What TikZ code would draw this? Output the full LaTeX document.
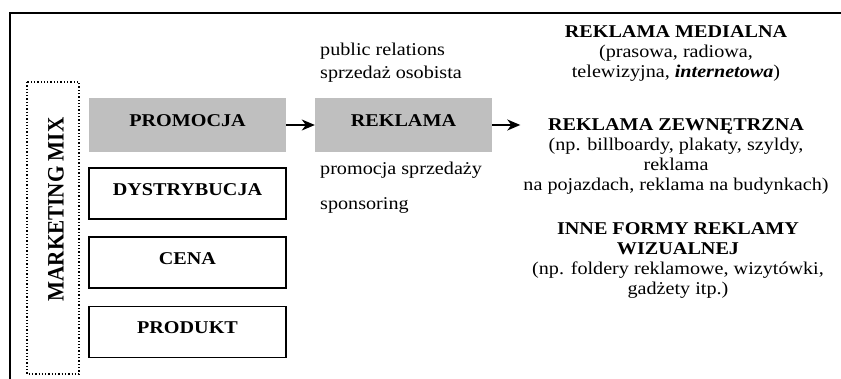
\documentclass[tikz,border=0pt]{standalone}
\usepackage{fontspec}
\setmainfont{Liberation Serif}[FakeStretch=1.12]
\newfontfamily\mixfont{Liberation Serif}[FakeStretch=0.9]
\usetikzlibrary{arrows.meta}
\begin{document}
\begin{tikzpicture}[x=1pt,y=-1pt,>={Stealth[length=13pt,width=11pt,inset=4pt]},
    txt/.style={font=\fontsize{18}{20}\selectfont,inner sep=0pt},
    mixbox/.style={txt,font=\fontsize{18}{20}\selectfont\bfseries,minimum width=197pt,
      minimum height=51pt,text height=12pt,text depth=8pt},
    greybox/.style={mixbox,fill=gray!50,minimum height=54pt},
    whitebox/.style={mixbox,draw,line width=1.3pt}]
    \useasboundingbox (0,0) rectangle (841,379);
    \draw[line width=2pt] (10,390) -- (10,13) -- (850,13);
    % marketing mix
    \draw[dotted,line width=1.3pt] (27,82) rectangle (79,374);
    \node[inner sep=0pt,rotate=90,font=\mixfont\fontsize{23.5}{24}\selectfont\bfseries] (mix) at (56,209.5) {MARKETING MIX};
    \node[greybox] (promocja) at (187.5,125) {PROMOCJA};
    \node[whitebox] (dystrybucja) at (187.5,193.5) {DYSTRYBUCJA};
    \node[whitebox] (cena) at (187.5,262.5) {CENA};
    \node[whitebox] (produkt) at (187.5,332) {PRODUKT};
    % promotion tools
    \node[greybox,minimum width=177pt] (reklama) at (403.5,125) {REKLAMA};
    \node[txt,anchor=base west] (pr) at (320,56) {public relations};
    \node[txt,anchor=base west] (osob) at (320,79) {sprzedaż osobista};
    \node[txt,anchor=base west] (promsp) at (320,175) {promocja sprzedaży};
    \node[txt,anchor=base west] (spons) at (320,210) {sponsoring};
    % kinds of advertising
    \node[txt,align=center,anchor=north] (medialna) at (676,25.8)
      {\textbf{REKLAMA MEDIALNA}\\(prasowa, radiowa,\\telewizyjna, \textbf{\textit{internetowa}})};
    \node[txt,align=center,anchor=north] (zewnetrzna) at (676,118.8)
      {\textbf{REKLAMA ZEWNĘTRZNA}\\(np. billboardy, plakaty, szyldy,\\reklama\\na pojazdach, reklama na budynkach)};
    \node[txt,align=center,anchor=north] (inne) at (678,222.8)
      {\textbf{INNE FORMY REKLAMY}\\\textbf{WIZUALNEJ}\\(np. foldery reklamowe, wizytówki,\\gadżety itp.)};
    \draw[->,line width=1.4pt] (promocja) -- (reklama);
    \draw[->,line width=1.4pt] (reklama.east) -- ([xshift=-3pt]reklama.east -| zewnetrzna.west);
\end{tikzpicture}
\end{document}
